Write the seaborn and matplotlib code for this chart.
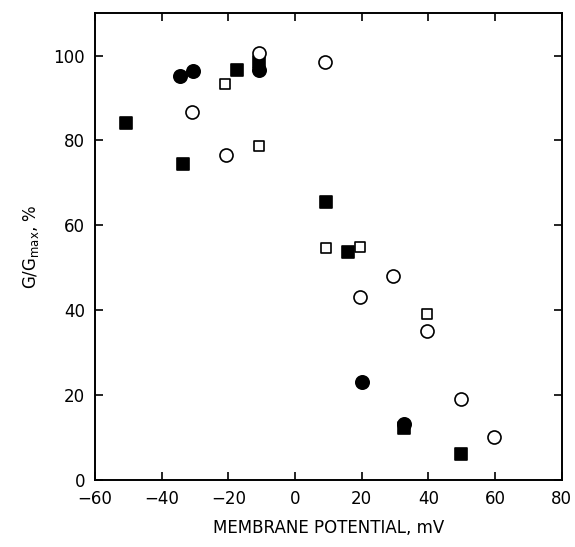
import matplotlib
matplotlib.use("Agg")
import matplotlib.pyplot as plt
import seaborn as sns
import pandas as pd

# Relative conductance vs membrane potential, four data sets
filled_circle_x = [-34.5, -30.5, -10.8, 20.0, 32.8]
filled_circle_y = [95.3, 96.3, 96.5, 23.0, 13.1]

open_circle_x = [-30.8, -20.8, -10.8, 9.0, 19.5, 29.5, 39.7, 49.8, 59.7]
open_circle_y = [86.8, 76.5, 100.5, 98.6, 43.0, 48.0, 35.1, 19.2, 10.2]

filled_square_x = [-50.8, -33.7, -17.5, -10.8, 9.2, 16.0, 32.8, 49.8]
filled_square_y = [84.2, 74.4, 96.5, 98.4, 65.5, 53.7, 12.2, 6.1]

open_square_x = [-21.0, -10.8, 9.2, 19.5, 39.7]
open_square_y = [93.3, 78.6, 54.7, 54.8, 39.0]

x_ticks = [-60, -40, -20, 0, 20, 40, 60, 80]
y_ticks = [0, 20, 40, 60, 80, 100]

sns.set_style("ticks")
plt.rcParams["font.family"] = ["DejaVu Sans"]
plt.rcParams["text.color"] = "black"
plt.rcParams["axes.labelcolor"] = "black"

fig = plt.figure(figsize=(5.75, 5.47), dpi=100)
ax = fig.add_axes([0.165, 0.1225, 0.812, 0.8535])

series = [
    (open_square_x, open_square_y, "s", "white", 62),
    (filled_square_x, filled_square_y, "s", "black", 63),
    (open_circle_x, open_circle_y, "o", "white", 88),
    (filled_circle_x, filled_circle_y, "o", "black", 92),
]
for xs, ys, mk, fc, size in series:
    df = pd.DataFrame({"mV": xs, "G": ys})
    sns.scatterplot(data=df, x="mV", y="G", marker=mk, s=size,
                    color=fc, edgecolor="black", linewidth=1.2,
                    ax=ax, legend=False, zorder=3)

ax.set_xlim(-60, 80)
ax.set_ylim(0, 110)
ax.set_xticks(x_ticks)
ax.set_yticks(y_ticks)
ax.set_xticklabels([f"{v}".replace("-", "\u2212") for v in x_ticks])
ax.tick_params(direction="in", length=6, width=1.2, labelsize=12,
               top=True, right=True, colors="black", labelcolor="black")
ax.tick_params(axis="x", pad=7)
ax.tick_params(axis="y", pad=7)
for sp in ax.spines.values():
    sp.set_linewidth(1.4)
    sp.set_color("black")

ax.set_xlabel("MEMBRANE POTENTIAL, mV", fontsize=12, labelpad=8, color="black")
ax.set_ylabel(r"G/G$_{\mathregular{max}}$, %", fontsize=12, labelpad=9, color="black")

fig.savefig("out.png", dpi=100, facecolor="white")
